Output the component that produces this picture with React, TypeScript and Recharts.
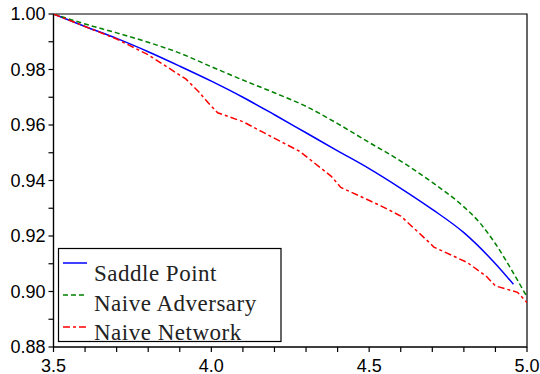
import { Line, LineChart, ReferenceArea, XAxis, YAxis } from 'recharts';

const SADDLE_X = [3.5, 3.6, 3.7, 3.8, 3.9, 4.0, 4.1, 4.2, 4.3, 4.4, 4.5, 4.6, 4.7, 4.8, 4.9, 4.957];
const SADDLE_Y = [1.0, 0.9955, 0.9912, 0.9864, 0.9812, 0.9758, 0.9700, 0.9637, 0.9572, 0.9507, 0.9443, 0.9372, 0.9296, 0.9212, 0.9100, 0.9026];

const ADVERSARY_X = [3.5, 3.6, 3.7, 3.8, 3.9, 4.0, 4.1, 4.2, 4.3, 4.4, 4.5, 4.6, 4.7, 4.8, 4.85, 4.9, 4.95, 5.0];
const ADVERSARY_Y = [1.0, 0.9964, 0.9932, 0.9898, 0.9859, 0.9810, 0.9762, 0.9716, 0.9667, 0.9605, 0.9537, 0.9470, 0.9393, 0.9305, 0.9248, 0.9172, 0.9080, 0.8980];

const NETWORK_X = [3.5, 3.6, 3.7, 3.8, 3.92, 3.96, 3.99, 4.02, 4.1, 4.16, 4.28, 4.38, 4.41, 4.47, 4.54, 4.6, 4.69, 4.705, 4.81, 4.87, 4.9, 4.97, 5.0];
const NETWORK_Y = [1.0, 0.9955, 0.991, 0.9853, 0.9765, 0.972, 0.968, 0.9644, 0.9612, 0.9576, 0.9505, 0.9415, 0.9375, 0.9344, 0.9307, 0.9272, 0.9177, 0.916, 0.9105, 0.9056, 0.902, 0.8997, 0.896];

const X_TICKS = [3.5, 3.6, 3.7, 3.8, 3.9, 4.0, 4.1, 4.2, 4.3, 4.4, 4.5, 4.6, 4.7, 4.8, 4.9, 5.0];
const X_LABELS = ['3.5', '4.0', '4.5', '5.0'];
const Y_TICKS = [0.88, 0.89, 0.9, 0.91, 0.92, 0.93, 0.94, 0.95, 0.96, 0.97, 0.98, 0.99, 1.0];
const Y_LABELS = ['0.88', '0.90', '0.92', '0.94', '0.96', '0.98', '1.00'];

const SERIES_NAMES = ['Saddle Point', 'Naive Adversary', 'Naive Network'];
const SERIES_COLORS = ['#0000ff', '#008000', '#ff0000'];
const SERIES_DASH = ['', '5 3', '7 3 3 3'];
const SERIES_CURVE = ['monotone', 'monotone', 'linear'] as const;

const toPoints = (xs: number[], ys: number[]) => xs.map((x, i) => ({ x, y: ys[i] }));

const series = [
  toPoints(SADDLE_X, SADDLE_Y),
  toPoints(ADVERSARY_X, ADVERSARY_Y),
  toPoints(NETWORK_X, NETWORK_Y),
];

const axisFont = { fontSize: 18, fill: '#000', fontFamily: '"Liberation Sans", Arial, sans-serif' };

export default function App() {
  return (
    <div style={{ position: 'absolute', left: 0, top: 0, width: 540, height: 374, background: '#fff' }}>
      <LineChart width={540} height={374} margin={{ top: 14, right: 13, bottom: 0, left: 0 }}>
        <XAxis
          dataKey="x"
          type="number"
          domain={[3.5, 5.0]}
          ticks={X_TICKS}
          allowDataOverflow
          interval={0}
          height={27}
          tickSize={5}
          tickMargin={7}
          tick={axisFont}
          tickFormatter={(v: number) => (X_LABELS.includes(v.toFixed(1)) ? v.toFixed(1) : '')}
          stroke="#000"
          strokeWidth={1.2}
        />
        <YAxis
          dataKey="y"
          type="number"
          domain={[0.88, 1.0]}
          ticks={Y_TICKS}
          allowDataOverflow
          interval={0}
          width={53.5}
          tickSize={5}
          tickMargin={3}
          tick={axisFont}
          tickFormatter={(v: number) => (Y_LABELS.includes(v.toFixed(2)) ? v.toFixed(2) : '')}
          stroke="#000"
          strokeWidth={1.2}
        />
        <ReferenceArea x1={3.5} x2={5.0} y1={0.88} y2={1.0} fill="none" stroke="#000" strokeWidth={1.2} />
        {series.map((data, i) => (
          <Line
            key={SERIES_NAMES[i]}
            data={data}
            dataKey="y"
            name={SERIES_NAMES[i]}
            type={SERIES_CURVE[i]}
            stroke={SERIES_COLORS[i]}
            strokeWidth={1.5}
            strokeDasharray={SERIES_DASH[i] || undefined}
            dot={false}
            activeDot={false}
            isAnimationActive={false}
          />
        ))}
      </LineChart>
      <svg
        width={540}
        height={374}
        style={{ position: 'absolute', left: 0, top: 0, pointerEvents: 'none' }}
      >
        <rect x={58.5} y={248.5} width={222.5} height={93} fill="#fff" stroke="#000" strokeWidth={1.2} />
        {SERIES_NAMES.map((name, i) => (
          <g key={name}>
            <line
              x1={63}
              x2={87}
              y1={263 + i * 32}
              y2={263 + i * 32}
              stroke={SERIES_COLORS[i]}
              strokeWidth={1.5}
              strokeDasharray={SERIES_DASH[i] || undefined}
            />
            <text
              x={94}
              y={281 + i * 29.5}
              fontSize={23}
              letterSpacing={0.5}
              fill="#222"
              fontFamily='"Liberation Serif", "Times New Roman", serif'
            >
              {name}
            </text>
          </g>
        ))}
      </svg>
    </div>
  );
}
